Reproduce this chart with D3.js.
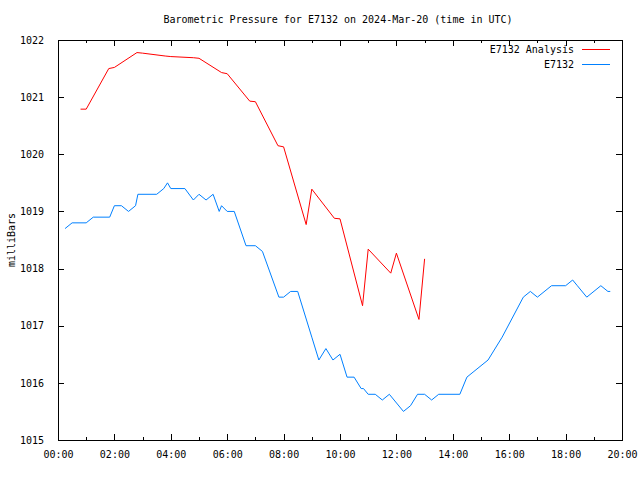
<!DOCTYPE html>
<html><head><meta charset="utf-8">
<script src="https://cdn.jsdelivr.net/npm/d3@7"></script>
<style>
body{margin:0;background:#fff}
text{font-family:"DejaVu Sans Mono","Liberation Mono",monospace;font-size:10px;fill:#000}
</style></head><body>
<svg id="c" width="640" height="480"></svg>
<script>
const title = "Barometric Pressure for E7132 on 2024-Mar-20 (time in UTC)";
const yLabel = "milliBars";
const xTickHours = [0,2,4,6,8,10,12,14,16,18,20];
const yTickValues = [1015,1016,1017,1018,1019,1020,1021,1022];

const analysisName = "E7132 Analysis";
const analysisTimes = ["00:48","01:00","01:48","02:00","02:48","03:00","03:48","04:00","04:48","05:00","05:48","06:00","06:48","07:00","07:48","08:00","08:48","09:00","09:48","10:00","10:48","11:00","11:48","12:00","12:48","13:00"];
const analysisValues = [1020.79,1020.79,1021.50,1021.52,1021.78,1021.77,1021.72,1021.71,1021.69,1021.68,1021.43,1021.41,1020.93,1020.92,1020.15,1020.13,1018.77,1019.39,1018.88,1018.87,1017.35,1018.34,1017.92,1018.27,1017.11,1018.17];

const obsName = "E7132";
const obsTimes = ["00:15","00:30","01:00","01:15","01:50","02:00","02:15","02:30","02:45","02:50","03:30","03:45","03:53","04:00","04:30","04:48","05:00","05:15","05:30","05:43","05:48","06:00","06:15","06:40","07:00","07:15","07:50","08:00","08:15","08:30","09:00","09:15","09:30","09:45","10:00","10:15","10:30","10:45","10:50","11:00","11:15","11:30","11:45","12:15","12:30","12:45","13:00","13:15","13:30","14:15","14:30","14:45","15:00","15:15","15:45","16:30","16:45","17:00","17:30","18:00","18:15","18:25","18:45","19:15","19:30","19:35"];
const obsValues = [1018.70,1018.80,1018.80,1018.90,1018.90,1019.10,1019.10,1019.00,1019.10,1019.30,1019.30,1019.40,1019.50,1019.40,1019.40,1019.20,1019.30,1019.20,1019.30,1019.00,1019.10,1019.00,1019.00,1018.40,1018.40,1018.30,1017.50,1017.50,1017.60,1017.60,1016.80,1016.40,1016.60,1016.40,1016.50,1016.10,1016.10,1015.90,1015.90,1015.80,1015.80,1015.70,1015.80,1015.50,1015.60,1015.80,1015.80,1015.70,1015.80,1015.80,1016.10,1016.20,1016.30,1016.40,1016.80,1017.50,1017.60,1017.50,1017.70,1017.70,1017.80,1017.70,1017.50,1017.70,1017.60,1017.60];

const toH = s => { const [h,m] = s.split(":").map(Number); return h + m/60; };
const svg = d3.select("#c");
const L = 58, R = 622, T = 40, B = 440;
const x = d3.scaleLinear().domain([0,20]).range([L,R]);
const y = d3.scaleLinear().domain([1015,1022]).range([B,T]);
const fmt = h => String(h).padStart(2,"0") + ":00";

// axes with inward ticks
const xMinor = d3.range(1,20,2);
svg.append("g").attr("transform",`translate(0,${B})`)
  .call(d3.axisBottom(x).tickValues(xTickHours).tickFormat(fmt).tickSizeInner(-6).tickSizeOuter(0).tickPadding(11))
  .call(g=>g.select(".domain").remove())
  .call(g=>g.selectAll("text").attr("font-size",null).attr("font-family",null));
svg.append("g").attr("transform",`translate(0,${B})`)
  .call(d3.axisBottom(x).tickValues(xMinor).tickFormat("").tickSizeInner(-3).tickSizeOuter(0))
  .call(g=>g.select(".domain").remove());
svg.append("g").attr("transform",`translate(0,${T})`)
  .call(d3.axisTop(x).tickValues(xTickHours).tickFormat("").tickSizeInner(-6).tickSizeOuter(0))
  .call(g=>g.select(".domain").remove());
svg.append("g").attr("transform",`translate(0,${T})`)
  .call(d3.axisTop(x).tickValues(xMinor).tickFormat("").tickSizeInner(-3).tickSizeOuter(0))
  .call(g=>g.select(".domain").remove());
svg.append("g").attr("transform",`translate(${L},0)`)
  .call(d3.axisLeft(y).tickValues(yTickValues).tickFormat(d3.format("d")).tickSizeInner(-6).tickSizeOuter(0).tickPadding(14))
  .call(g=>g.select(".domain").remove())
  .call(g=>g.selectAll("text").attr("font-size",null).attr("font-family",null));
svg.append("g").attr("transform",`translate(${R},0)`)
  .call(d3.axisRight(y).tickValues(yTickValues).tickFormat("").tickSizeInner(-6).tickSizeOuter(0))
  .call(g=>g.select(".domain").remove());
svg.selectAll(".tick line").attr("stroke","#000").attr("shape-rendering","crispEdges");

svg.append("rect").attr("x",L).attr("y",T).attr("width",R-L).attr("height",B-T)
  .attr("fill","none").attr("stroke","#000").attr("shape-rendering","crispEdges");

const line = d3.line().x(d=>x(d[0])).y(d=>y(d[1]));
const aData = analysisTimes.map((t,i)=>[toH(t),analysisValues[i]]);
const oData = obsTimes.map((t,i)=>[toH(t),obsValues[i]]);
svg.append("path").datum(aData).attr("d",line).attr("fill","none").attr("stroke","#ff0000").attr("stroke-width",1);
svg.append("path").datum(oData).attr("d",line).attr("fill","none").attr("stroke","#0080ff").attr("stroke-width",1);

// legend
const leg = [[analysisName,"#ff0000"],[obsName,"#0080ff"]];
leg.forEach((d,i)=>{
  const yy = 49 + i*15;
  svg.append("text").attr("x",574).attr("y",yy).attr("dy","0.35em").attr("text-anchor","end").text(d[0]);
  svg.append("line").attr("x1",582).attr("x2",610).attr("y1",yy).attr("y2",yy).attr("stroke",d[1]).attr("shape-rendering","crispEdges");
});

svg.append("text").attr("x",338).attr("y",19).attr("dy","0.35em").attr("text-anchor","middle").text(title);
svg.append("text").attr("transform","translate(11,240) rotate(-90)").attr("dy","0.35em").attr("text-anchor","middle").text(yLabel);
</script></body></html>
